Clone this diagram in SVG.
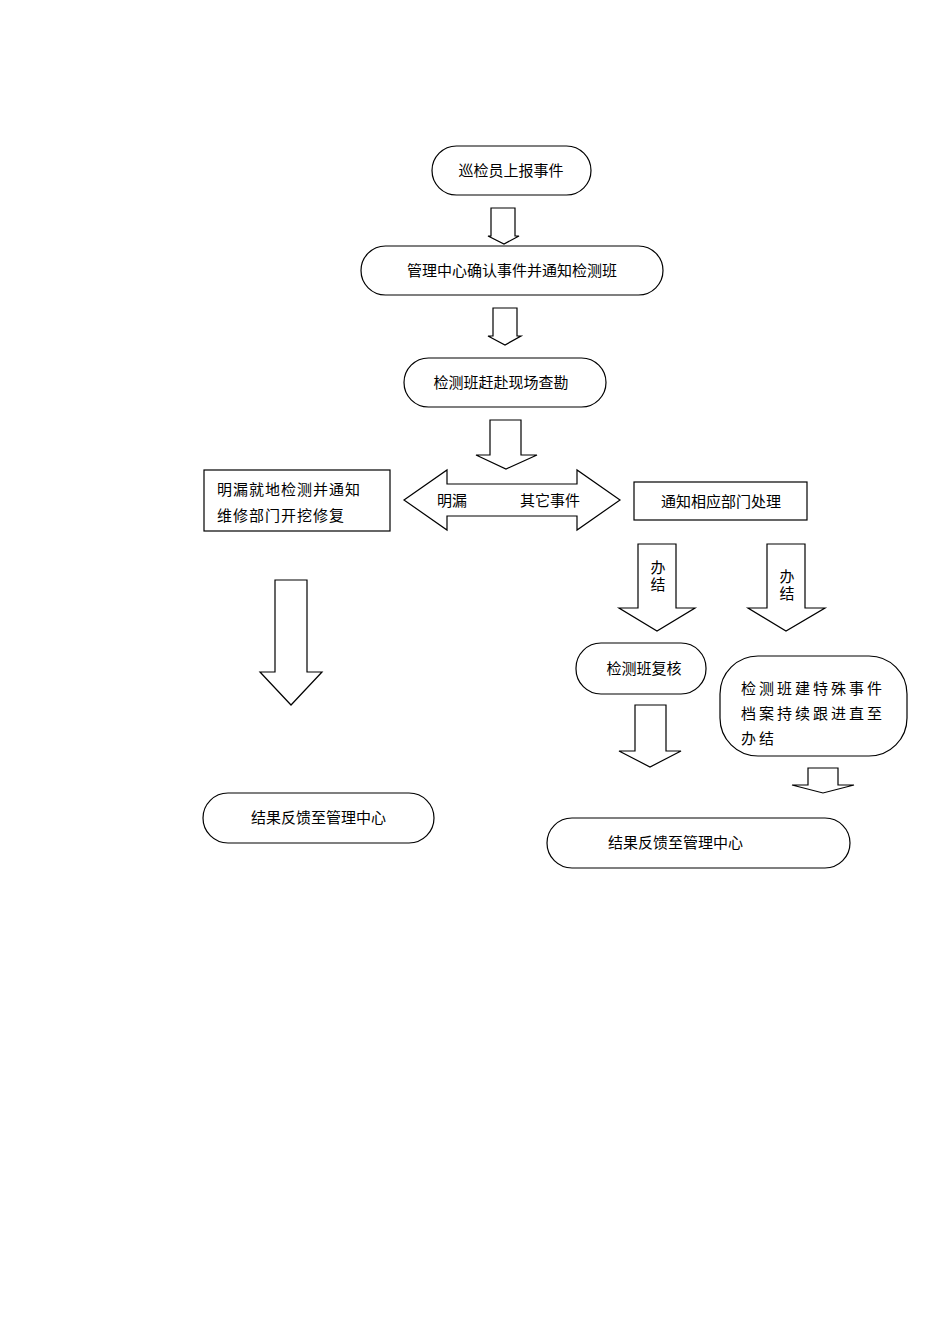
<svg xmlns="http://www.w3.org/2000/svg" width="950" height="1344" viewBox="0 0 950 1344">
<style>
.s{fill:#fff;stroke:#000;stroke-width:1.2}
.t{font-family:"Liberation Sans","Noto Sans CJK SC",sans-serif;font-size:15px;fill:#000}
.c{text-anchor:middle}
</style>
<rect width="950" height="1344" fill="#fff"/>
<g id="connectors">
<polygon class="s" points="491,208 515,208 515,236 519,236 504,244 488,236 491,236"/>
<polygon class="s" points="493,308 517,308 517,336 521,336 505,345 488,336 493,336"/>
<polygon class="s" points="490,420 521,420 521,455 537,455 506,469 476,455 490,455"/>
<polygon class="s" points="404,500 447,470 447,484 577,484 577,470 620,500 577,530 577,516 447,516 447,530"/>
<polygon class="s" points="638,544 676,544 676,608 695,608 657,631 619,608 638,608"/>
<polygon class="s" points="767,544 805,544 805,608 825,608 786,631 748,608 767,608"/>
<polygon class="s" points="635,705 666,705 666,751 681,751 650,767 619,751 635,751"/>
<polygon class="s" points="808,768 838,768 838,785 854,785 823,793 792,785 808,785"/>
<polygon class="s" points="275,580 307,580 307,672 322,672 291,705 260,672 275,672"/>
<text class="t" x="437" y="506">明漏</text>
<text class="t" x="520" y="506">其它事件</text>
<text class="t c" x="658" y="573">办</text>
<text class="t c" x="658" y="590">结</text>
<text class="t c" x="787" y="582">办</text>
<text class="t c" x="787" y="599">结</text>
</g>
<g id="n1"><rect class="s" x="432" y="146" width="159" height="49" rx="24.5"/><text class="t c" x="511" y="176">巡检员上报事件</text></g>
<g id="n2"><rect class="s" x="361" y="246" width="302" height="49" rx="24.5"/><text class="t c" x="512" y="276">管理中心确认事件并通知检测班</text></g>
<g id="n3"><rect class="s" x="404" y="358" width="202" height="49" rx="24.5"/><text class="t c" x="501" y="388">检测班赶赴现场查勘</text></g>
<g id="n4"><rect class="s" x="204" y="470" width="186" height="61"/><text class="t" x="217" y="495" letter-spacing="1">明漏就地检测并通知</text><text class="t" x="217" y="521" letter-spacing="1">维修部门开挖修复</text></g>
<g id="n5"><rect class="s" x="634" y="482" width="173" height="38"/><text class="t c" x="721" y="507">通知相应部门处理</text></g>
<g id="n6"><rect class="s" x="576" y="643" width="130" height="51" rx="25"/><text class="t c" x="644" y="674">检测班复核</text></g>
<g id="n7"><rect class="s" x="720" y="656" width="187" height="100" rx="38"/><text class="t" x="741" y="694" letter-spacing="3">检测班建特殊事件</text><text class="t" x="741" y="719" letter-spacing="3">档案持续跟进直至</text><text class="t" x="741" y="744" letter-spacing="3">办结</text></g>
<g id="n8"><rect class="s" x="203" y="793" width="231" height="50" rx="25"/><text class="t" x="251" y="823">结果反馈至管理中心</text></g>
<g id="n9"><rect class="s" x="547" y="818" width="303" height="50" rx="25"/><text class="t" x="608" y="848">结果反馈至管理中心</text></g>
</svg>
